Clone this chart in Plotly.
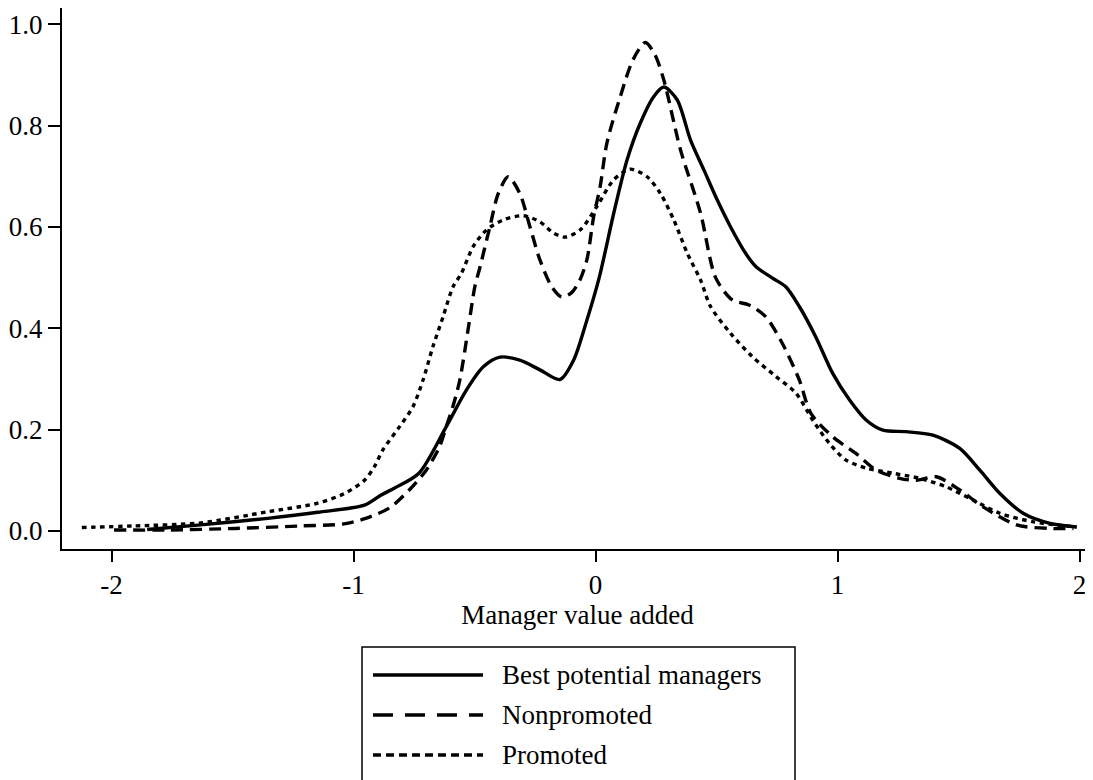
import plotly.graph_objects as go

# ---------------- data ----------------
best_x = [-1.853, -1.632, -1.355, -1.148, -0.955, -0.886, -0.83, -0.73, -0.617, -0.534,
          -0.464, -0.395, -0.313, -0.23, -0.147, -0.091, -0.036, 0.015, 0.075, 0.13,
          0.185, 0.24, 0.282, 0.337, 0.392, 0.448, 0.503, 0.558, 0.62, 0.662,
          0.731, 0.786, 0.842, 0.91, 0.98, 1.049, 1.118, 1.187, 1.284, 1.394,
          1.505, 1.588, 1.671, 1.767, 1.878, 1.988]
best_y = [0.003, 0.012, 0.025, 0.037, 0.051, 0.071, 0.085, 0.114, 0.206, 0.278,
          0.324, 0.343, 0.337, 0.318, 0.299, 0.337, 0.416, 0.50, 0.627, 0.732,
          0.805, 0.857, 0.876, 0.851, 0.772, 0.712, 0.653, 0.60, 0.548, 0.522,
          0.499, 0.482, 0.443, 0.383, 0.311, 0.259, 0.219, 0.199, 0.196, 0.189,
          0.163, 0.12, 0.074, 0.035, 0.015, 0.008]

nonprom_x = [-1.99, -1.77, -1.49, -1.22, -1.04, -0.95, -0.85, -0.77, -0.70, -0.645,
             -0.617, -0.59, -0.561, -0.527, -0.499, -0.478, -0.437, -0.402, -0.361, -0.313,
             -0.271, -0.23, -0.181, -0.14, -0.10, -0.065, -0.036, -0.008, 0.019, 0.047,
             0.102, 0.155, 0.206, 0.245, 0.282, 0.351, 0.434, 0.496, 0.565, 0.634,
             0.703, 0.772, 0.842, 0.89, 0.98, 1.076, 1.16, 1.256, 1.325, 1.408,
             1.505, 1.60, 1.74, 1.878, 1.975]
nonprom_y = [0.002, 0.002, 0.005, 0.010, 0.014, 0.025, 0.046, 0.081, 0.12, 0.166,
             0.206, 0.245, 0.298, 0.397, 0.482, 0.52, 0.60, 0.666, 0.699, 0.666,
             0.60, 0.535, 0.482, 0.462, 0.47, 0.495, 0.535, 0.62, 0.68, 0.766,
             0.857, 0.93, 0.964, 0.94, 0.89, 0.752, 0.627, 0.50, 0.456, 0.446,
             0.423, 0.37, 0.298, 0.232, 0.186, 0.153, 0.12, 0.104, 0.10, 0.107,
             0.081, 0.048, 0.012, 0.005, 0.005]

prom_x = [-2.123, -1.909, -1.632, -1.355, -1.148, -1.038, -0.955, -0.914, -0.879, -0.81,
          -0.755, -0.713, -0.672, -0.63, -0.589, -0.554, -0.506, -0.451, -0.381, -0.299,
          -0.23, -0.174, -0.126, -0.064, 0.005, 0.075, 0.143, 0.213, 0.268, 0.323,
          0.379, 0.434, 0.475, 0.558, 0.648, 0.745, 0.828, 0.897, 0.966, 1.035,
          1.118, 1.228, 1.339, 1.45, 1.56, 1.671, 1.81, 1.988]
prom_y = [0.007, 0.010, 0.016, 0.038, 0.055, 0.074, 0.10, 0.127, 0.16, 0.206,
          0.245, 0.298, 0.364, 0.423, 0.482, 0.509, 0.561, 0.594, 0.614, 0.622,
          0.61, 0.588, 0.58, 0.594, 0.64, 0.693, 0.714, 0.699, 0.666, 0.614,
          0.548, 0.495, 0.443, 0.39, 0.344, 0.305, 0.272, 0.219, 0.173, 0.14,
          0.124, 0.114, 0.104, 0.087, 0.061, 0.035, 0.018, 0.008]

series_names = ["Best potential managers", "Nonpromoted", "Promoted"]
x_tickvals = [-2, -1, 0, 1, 2]
x_ticktext = ["-2", "-1", "0", "1", "2"]
y_tickvals = [0.0, 0.2, 0.4, 0.6, 0.8, 1.0]
x_title = "Manager value added"

# ---------------- styling ----------------
FONT = "Liberation Serif"
FS = 27
plot_dashes = ["solid", "12px,7px", "4.5px,4.5px"]
legend_dashes = ["solid", "20px,12px", "8px,5px"]

fig = go.Figure()
for name, xs, ys, dash in zip(series_names,
                              [best_x, nonprom_x, prom_x],
                              [best_y, nonprom_y, prom_y],
                              plot_dashes):
    fig.add_trace(go.Scatter(x=xs, y=ys, mode="lines", name=name,
                             line=dict(color="black", width=3.4, dash=dash,
                                       shape="spline", smoothing=0.8),
                             showlegend=False))

# The page body has an 8px default margin, so the figure is sized to fill
# the window after that offset.
OFF = 8
W, H = 1093 - OFF, 780 - OFF
ml, mr, mt, mb = 62 - OFF, 0, 0, 231
pw, ph = W - ml - mr, H - mt - mb

def px2paper(px, py):
    # px, py are window coordinates
    return (px - OFF - ml) / pw, (H - mb - (py - OFF)) / ph

# manual legend box (Stata style, centred below the plot)
bx0, by0 = px2paper(362, 647)
bx1, by1 = px2paper(795, 800)
shapes = [dict(type="rect", xref="paper", yref="paper", x0=bx0, x1=bx1, y0=by1, y1=by0,
               line=dict(color="black", width=1.5), fillcolor="white", layer="above")]
annotations = []
rows_py = [675, 715, 755]
for name, dash, py in zip(series_names, legend_dashes, rows_py):
    lx0, ly = px2paper(373, py)
    lx1, _ = px2paper(483, py)
    shapes.append(dict(type="line", xref="paper", yref="paper", x0=lx0, x1=lx1, y0=ly, y1=ly,
                       line=dict(color="black", width=3.4, dash=dash)))
    tx, _ = px2paper(500, py)
    annotations.append(dict(xref="paper", yref="paper", x=tx, y=ly, text=name, showarrow=False,
                            xanchor="left", yanchor="middle",
                            font=dict(family=FONT, size=FS, color="black")))

fig.update_layout(
    width=W, height=H,
    margin=dict(l=ml, r=mr, t=mt, b=mb, pad=0, autoexpand=False),
    paper_bgcolor="white", plot_bgcolor="white",
    font=dict(family=FONT, size=FS, color="black"),
    shapes=shapes, annotations=annotations,
    showlegend=False,
)
fig.update_xaxes(range=[-2.205, 2.0556], tickvals=x_tickvals, ticktext=x_ticktext,
                 automargin=False,
                 showgrid=False, zeroline=False, showline=True, linecolor="black", linewidth=2,
                 ticks="outside", ticklen=11, tickwidth=1.5, tickcolor="black",
                 title=dict(text=x_title, standoff=4, font=dict(family=FONT, size=FS)))
fig.update_yaxes(range=[-0.0355, 1.032], tickvals=y_tickvals, tickformat=".1f",
                 automargin=False,
                 showgrid=False, zeroline=False, showline=True, linecolor="black", linewidth=2,
                 ticks="outside", ticklen=12, tickwidth=1.5, tickcolor="black")

fig.write_html("out.html")
